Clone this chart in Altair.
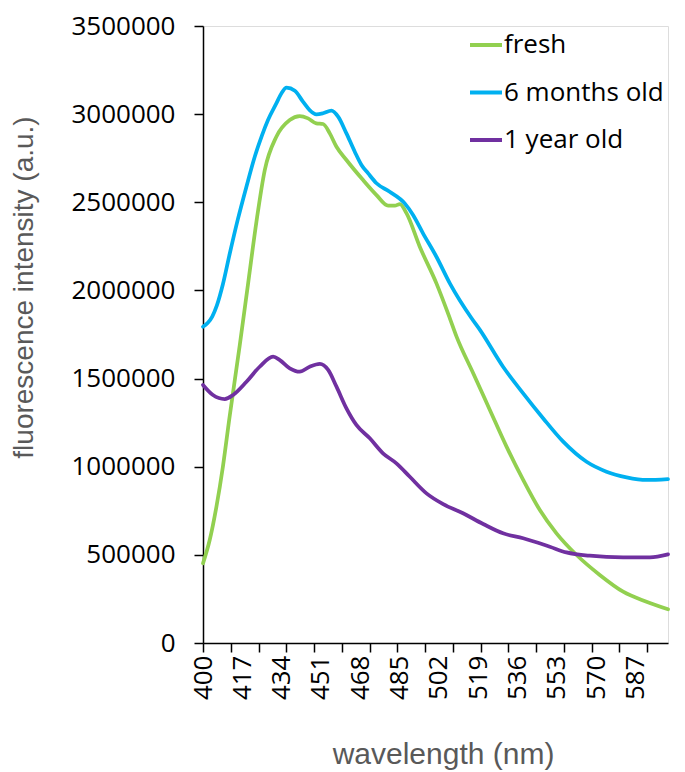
import altair as alt
import pandas as pd

series_names = ["fresh", "6 months old", "1 year old"]
series_colors = ["#92D050", "#00B0F0", "#7030A0"]

fresh_wl = [400, 402.9, 405.8, 408.6, 411.5, 415.9, 419.5, 423.1, 426.7, 431.7, 437.5,
            441.8, 445.4, 449, 451.9, 454.8, 457.7, 462, 469.2, 475, 480, 482.9, 485.1, 488,
            493.7, 500.9, 506.7, 509.6, 516.8, 524, 531.2, 538.4, 545.6, 552.8, 561.5, 571.5,
            581.6, 591.7, 601]
fresh_val = [452000, 584000, 773000, 1000000, 1284000, 1690000, 2040000, 2390000, 2683000,
             2872000, 2967000, 2989000, 2976000, 2948000, 2944000, 2891000, 2815000,
             2740000, 2626000, 2541000, 2481000, 2481000, 2490000, 2437000, 2248000, 2040000,
             1842000, 1738000, 1530000, 1322000, 1114000, 925000, 754000, 622000, 499000,
             386000, 291000, 234000, 191000]

six_wl = [400, 402, 404, 406, 408.6, 411.5, 415, 418.8, 422.4, 425.5, 428.1, 431.7, 434,
          436.1, 439.7, 443.2, 446.1, 449, 451.9, 455.5, 458.4, 462, 465.6, 468.5, 471.4, 475,
          480.7, 487.2, 490.8, 495.1, 500.9, 506.7, 516.1, 519.7, 529.7, 538.4, 547, 555.7,
          565.8, 574.4, 583.1, 591.7, 601]
six_val = [1794000, 1815000, 1852000, 1915000, 2035000, 2205000, 2400000, 2590000, 2760000,
           2880000, 2967000, 3061000, 3120000, 3150000, 3133000, 3071000, 3023000, 2999000,
           3005000, 3020000, 2986000, 2891000, 2787000, 2712000, 2664000, 2608000, 2560000,
           2494000, 2428000, 2324000, 2191000, 2040000, 1842000, 1776000, 1567000, 1416000,
           1275000, 1142000, 1028000, 972000, 940000, 925000, 930000]

year_wl = [400, 404.3, 409.4, 413, 418.8, 424.5, 430.3, 433.2, 437.5, 441.8, 446.1, 450.5,
           454.1, 457.7, 462, 466.3, 472.1, 477.8, 483.6, 489.4, 496.6, 503.8, 512.4, 521.1,
           529.7, 538.4, 549.9, 557.1, 567.2, 581.6, 593.2, 601]
year_val = [1464000, 1407000, 1384000, 1407000, 1482000, 1567000, 1624000, 1605000, 1558000,
            1539000, 1567000, 1583000, 1549000, 1454000, 1331000, 1237000, 1161000, 1076000,
            1019000, 943000, 849000, 788000, 736000, 675000, 622000, 594000, 546000, 514000,
            495000, 486000, 486000, 503000]

label_ticks = list(range(400, 601, 17))
mark_ticks = list(range(400, 601, 12))
y_ticks = list(range(0, 3500001, 500000))

rows = []
for name, wl, val in [("fresh", fresh_wl, fresh_val),
                      ("6 months old", six_wl, six_val),
                      ("1 year old", year_wl, year_val)]:
    for w, v in zip(wl, val):
        rows.append({"series": name, "wavelength": w, "intensity": v})
df = pd.DataFrame(rows)

axis_values = sorted(set(label_ticks) | set(mark_ticks))

x_axis = alt.Axis(
    values=axis_values,
    labelExpr="(datum.value - 400) % 17 == 0 ? datum.label : ''",
    tickOpacity={"condition": {"test": "(datum.value - 400) % 12 == 0", "value": 1}, "value": 0},
    labelAngle=-90,
    labelFont="Open Sans", labelFontSize=26, labelColor="#000000",
    labelPadding=3, labelOverlap=False, labelFlush=False, labelBound=False,
    tickSize=9, tickColor="#000000", tickWidth=1.5,
    domainColor="#000000", domainWidth=1.5,
    grid=False,
    title="wavelength (nm)",
    titleFont="Liberation Sans", titleFontSize=30, titleFontWeight="normal",
    titleColor="#595959", titleBaseline="alphabetic",
    titleX=240, titleY=120, titleAnchor="middle", titleAlign="center",
)

y_axis = alt.Axis(
    values=y_ticks, format="d",
    labelFont="Open Sans", labelFontSize=26, labelColor="#000000",
    labelPadding=19,
    tickSize=9, tickColor="#000000", tickWidth=1.5,
    domainColor="#000000", domainWidth=1.5,
    grid=False,
    title="fluorescence intensity (a.u.)",
    titleFont="Liberation Sans", titleFontSize=28, titleFontWeight="normal",
    titleColor="#595959", titleBaseline="alphabetic", titleAngle=270,
    titleX=-171, titleY=261, titleAlign="center",
)

chart = alt.Chart(df).mark_line(strokeWidth=3.75, interpolate="monotone", strokeCap="round").encode(
    x=alt.X("wavelength:Q", scale=alt.Scale(domain=[400, 601], nice=False, zero=False), axis=x_axis),
    y=alt.Y("intensity:Q", scale=alt.Scale(domain=[0, 3500000], nice=False), axis=y_axis),
    color=alt.Color(
        "series:N",
        scale=alt.Scale(domain=series_names, range=series_colors),
        legend=alt.Legend(
            title=None, orient="none", legendX=265, legendY=1,
            symbolType="stroke", symbolSize=1024, symbolStrokeWidth=4,
            labelFont="Open Sans", labelFontSize=26, labelColor="#000000",
            labelOffset=0, rowPadding=16.5, padding=0,
        ),
    ),
    detail="series:N",
    order=alt.Order("wavelength:Q"),
).properties(
    width=465, height=617,
    autosize=alt.AutoSizeParams(type="none"),
    padding={"left": 195, "top": 18, "right": 5, "bottom": 129},
).configure_view(stroke=None).configure(background="#ffffff")

chart.save("out.html", embed_options={"renderer": "svg", "actions": False})
